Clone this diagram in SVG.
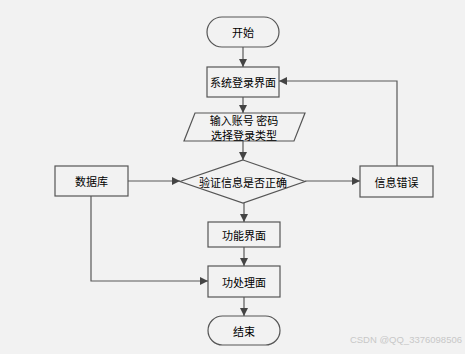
<svg xmlns="http://www.w3.org/2000/svg" width="465" height="354" viewBox="0 0 465 354">
<style>
.n{fill:#f2f2f2;stroke:#555;stroke-width:1.2}
.t{font-family:"Noto Sans CJK SC","Liberation Sans",sans-serif;font-size:11px;fill:#000;text-anchor:middle;dominant-baseline:central}
.c{fill:none;stroke:#595959;stroke-width:1.2}
</style>
<defs>
<marker id="a" viewBox="0 0 10 10" refX="10" refY="5" markerWidth="8" markerHeight="8" markerUnits="userSpaceOnUse" orient="auto">
<path d="M0,0 L10,5 L0,10 Z" fill="#444"/>
</marker>
</defs>
<rect width="465" height="354" fill="#f2f2f2"/>
<g id="connectors">
<path class="c" d="M243,47 V67" marker-end="url(#a)"/>
<path class="c" d="M243,97 V113" marker-end="url(#a)"/>
<path class="c" d="M243,141 V160" marker-end="url(#a)"/>
<path class="c" d="M128,181 H180" marker-end="url(#a)"/>
<path class="c" d="M305,181 H360" marker-end="url(#a)"/>
<path class="c" d="M397,166 V81 H279" marker-end="url(#a)"/>
<path class="c" d="M244,203 V222" marker-end="url(#a)"/>
<path class="c" d="M244,247 V266" marker-end="url(#a)"/>
<path class="c" d="M91,196 V281 H208" marker-end="url(#a)"/>
<path class="c" d="M244,297 V316" marker-end="url(#a)"/>
</g>
<g id="start">
<rect class="n" x="207" y="17" width="72" height="30" rx="15"/>
<text class="t" x="243" y="32">开始</text>
</g>
<g id="login">
<rect class="n" x="207" y="67" width="72" height="30"/>
<text class="t" x="243" y="82">系统登录界面</text>
</g>
<g id="input">
<polygon class="n" points="195,113 305,113 294,141 184,141"/>
<text class="t" x="244" y="119.5" font-size="10">输入账号 密码</text>
<text class="t" x="244" y="134.5" font-size="10">选择登录类型</text>
</g>
<g id="verify">
<polygon class="n" points="243,160 305,181.5 243,203 180,181.5"/>
<text class="t" x="243" y="181.5">验证信息是否正确</text>
</g>
<g id="db">
<rect class="n" x="55" y="166" width="73" height="30"/>
<text class="t" x="91.5" y="181">数据库</text>
</g>
<g id="error">
<rect class="n" x="360" y="166" width="73" height="31"/>
<text class="t" x="396.5" y="181.5">信息错误</text>
</g>
<g id="func">
<rect class="n" x="208" y="222" width="72" height="25"/>
<text class="t" x="244" y="234.5">功能界面</text>
</g>
<g id="process">
<rect class="n" x="208" y="266" width="72" height="31"/>
<text class="t" x="244" y="281.5">功处理面</text>
</g>
<g id="end">
<rect class="n" x="208" y="316" width="72" height="29" rx="14.5"/>
<text class="t" x="244" y="330.5">结束</text>
</g>
<text x="462" y="343" font-family="Liberation Sans,sans-serif" font-size="9.5" fill="#c8c8c8" text-anchor="end">CSDN @QQ_3376098506</text>
</svg>
